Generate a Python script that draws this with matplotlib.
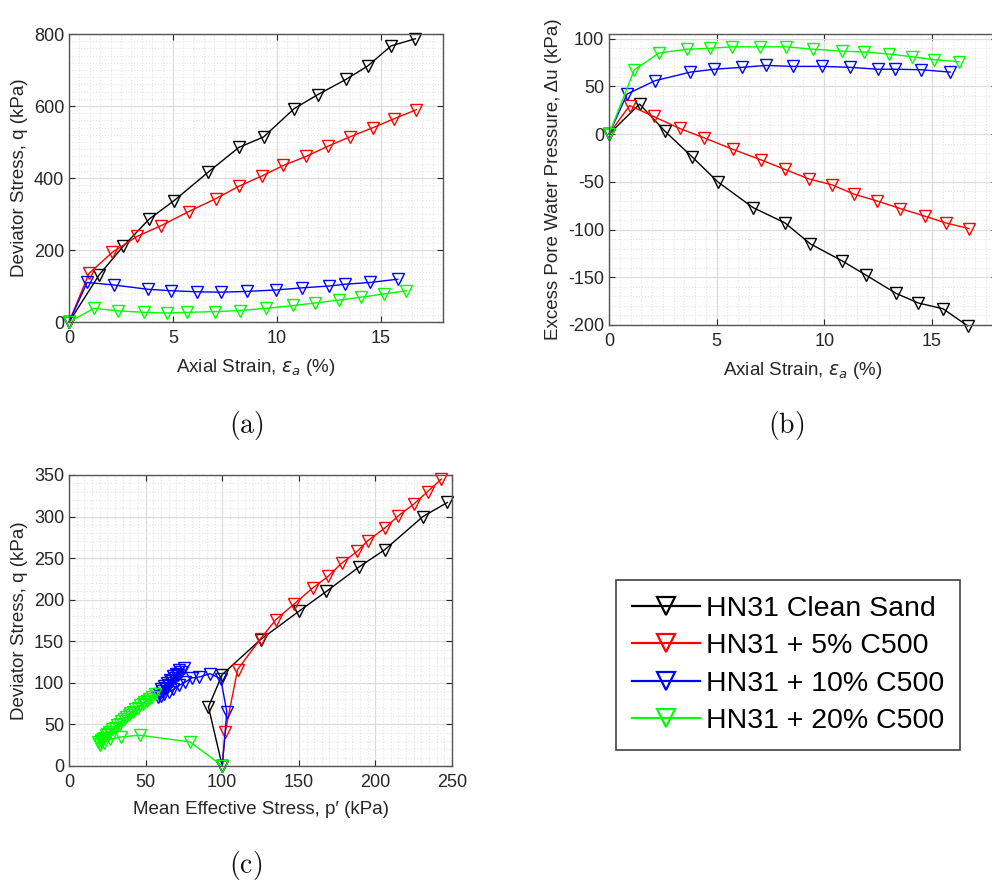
import numpy as np
import matplotlib.pyplot as plt
from matplotlib.ticker import MultipleLocator

plt.rcParams['font.family'] = ['Liberation Sans', 'DejaVu Sans']
plt.rcParams['axes.unicode_minus'] = False

labels = ['HN31 Clean Sand', 'HN31 + 5% C500', 'HN31 + 10% C500', 'HN31 + 20% C500']
colors = ['#000000', '#ff0000', '#0000ff', '#00ff00']

# (a) deviator stress vs axial strain
ea_a = [
    [0, 1.45, 2.6, 3.86, 5.05, 6.69, 8.17, 9.36, 10.84, 11.98, 13.33, 14.37, 15.5, 16.67],
    [0, 0.96, 2.09, 3.28, 4.44, 5.76, 7.07, 8.17, 9.29, 10.32, 11.41, 12.44, 13.5, 14.63, 15.66, 16.72],
    [0, 0.87, 2.15, 3.79, 4.89, 6.17, 7.3, 8.55, 9.94, 11.22, 12.51, 13.28, 14.5, 15.82],
    [0, 1.19, 2.35, 3.6, 4.73, 5.69, 7.04, 8.23, 9.49, 10.8, 11.86, 12.99, 14.05, 15.14, 16.24],
]
q_a = [
    [0, 131, 210, 286, 337, 416, 485, 514, 593, 632, 674, 711, 767, 787],
    [0, 135, 194, 238, 268, 307, 343, 377, 406, 435, 460, 488, 514, 540, 565, 590],
    [0, 110, 103, 91, 87, 84, 83, 85, 89, 95, 100, 105, 110, 119],
    [0, 38, 31, 27, 25, 27, 29, 32, 38, 46, 53, 61, 69, 78, 87],
]

# (b) excess pore water pressure vs axial strain
ea_b = [
    [0, 1.42, 2.6, 3.87, 5.05, 6.69, 8.17, 9.35, 10.84, 11.95, 13.34, 14.37, 15.51, 16.66],
    [0, 0.96, 2.07, 3.28, 4.43, 5.76, 7.06, 8.17, 9.29, 10.34, 11.39, 12.44, 13.53, 14.67, 15.63, 16.72],
    [0, 0.84, 2.14, 3.78, 4.89, 6.16, 7.28, 8.54, 9.91, 11.21, 12.48, 13.28, 14.49, 15.85],
    [0, 1.18, 2.32, 3.62, 4.71, 5.7, 7.0, 8.24, 9.47, 10.84, 11.86, 13.0, 14.09, 15.11, 16.25],
]
du_b = [
    [0, 31.5, 3, -24, -50, -77, -93, -115, -133, -148, -167, -177, -183, -201],
    [0, 30, 18.5, 6, -4, -16, -27, -37, -47, -53, -63, -70, -78, -86, -93, -99],
    [0, 42, 56, 65, 68, 70, 72, 71, 71, 70, 68, 68, 67.5, 65],
    [0, 67.5, 85, 89, 90, 91.5, 91.5, 91.5, 89, 87, 86, 84, 81, 78, 76],
]

# (c) stress paths
p_c = [
    [100, 91, 100, 125, 150, 168, 189, 206, 231, 247],
    [100, 102, 110, 125, 135, 147, 159, 169, 178, 188, 195, 206, 215, 225, 234, 243],
    [100, 103, 99, 92, 85, 80, 76, 72, 68, 65, 62, 60, 58, 59, 61, 60, 63, 62, 65, 64, 67, 66,
     69, 68, 71, 70, 73, 72, 75],
    [100, 79, 46, 34, 27, 23, 20, 19, 21, 20, 22, 21, 24, 23, 26, 25, 28, 27, 31, 30, 34, 33,
     37, 36, 40, 39, 43, 42, 46, 45, 49, 48, 52, 51, 54, 56],
]
q_c = [
    [0, 71, 110, 152, 186, 210, 239, 260, 300, 317],
    [0, 41, 116, 153, 176, 195, 214, 228, 244, 258, 271, 286, 301, 315, 330, 345],
    [0, 65, 105, 111, 107, 106, 101, 97, 92, 89, 86, 84, 83, 87, 90, 92, 94, 96, 98, 100, 102, 104,
     106, 108, 110, 111, 113, 115, 118],
    [0, 29, 37, 35, 32, 28, 25, 29, 31, 27, 33, 30, 37, 34, 41, 38, 44, 41, 49, 46, 54, 51,
     59, 56, 64, 61, 68, 65, 73, 70, 77, 74, 81, 78, 83, 86],
]

fig = plt.figure(figsize=(9.92, 8.84), dpi=100)
ax_a = fig.add_axes([0.0696, 0.6357, 0.377, 0.3258])
ax_b = fig.add_axes([0.6139, 0.6324, 0.3907, 0.3292])
ax_c = fig.add_axes([0.0696, 0.1335, 0.3861, 0.3292])

txt = '#262626'
for ax, xs, ys in [(ax_a, ea_a, q_a), (ax_b, ea_b, du_b), (ax_c, p_c, q_c)]:
    for x, y, c, lab in zip(xs, ys, colors, labels):
        ax.plot(x, y, color=c, lw=1.0, marker='v', ms=9, mfc='none', mec=c, mew=1.0,
                label=lab, clip_on=False)
    ax.set_axisbelow(True)
    ax.grid(which='major', color='#dcdcdc', lw=0.9)
    ax.grid(which='minor', color='#e4e4e4', lw=0.8, ls=':')
    ax.tick_params(which='major', direction='in', top=True, right=True, length=4,
                   labelsize=13, colors=txt, width=0.8)
    ax.tick_params(axis='x', which='major', pad=6)
    ax.tick_params(which='minor', length=0)
    for s in ax.spines.values():
        s.set_color('#555555')
        s.set_linewidth(1.0)

ax_a.set_xlim(0, 18)
ax_a.set_ylim(0, 800)
ax_a.xaxis.set_major_locator(MultipleLocator(5))
ax_a.xaxis.set_minor_locator(MultipleLocator(0.5))
ax_a.yaxis.set_major_locator(MultipleLocator(200))
ax_a.yaxis.set_minor_locator(MultipleLocator(20))
ax_a.set_xlabel(r'Axial Strain, $\epsilon_a$ (%)', fontsize=13.5, color=txt, labelpad=7)
ax_a.set_ylabel('Deviator Stress, q (kPa)', fontsize=13.5, color=txt, labelpad=4)

ax_b.set_xlim(0, 18)
ax_b.set_ylim(-200, 105)
ax_b.xaxis.set_major_locator(MultipleLocator(5))
ax_b.xaxis.set_minor_locator(MultipleLocator(0.5))
ax_b.yaxis.set_major_locator(MultipleLocator(50))
ax_b.yaxis.set_minor_locator(MultipleLocator(10))
ax_b.set_xlabel(r'Axial Strain, $\epsilon_a$ (%)', fontsize=13.5, color=txt, labelpad=7)
ax_b.set_ylabel('Excess Pore Water Pressure, Δu (kPa)', fontsize=13.5, color=txt, labelpad=4)

ax_c.set_xlim(0, 250)
ax_c.set_ylim(0, 350)
ax_c.xaxis.set_major_locator(MultipleLocator(50))
ax_c.xaxis.set_minor_locator(MultipleLocator(5))
ax_c.yaxis.set_major_locator(MultipleLocator(50))
ax_c.yaxis.set_minor_locator(MultipleLocator(10))
ax_c.set_xlabel('Mean Effective Stress, p\u2032 (kPa)', fontsize=13.5, color=txt, labelpad=7)
ax_c.set_ylabel('Deviator Stress, q (kPa)', fontsize=13.5, color=txt, labelpad=4)

for s, x, y in [('(a)', 246, 425), ('(b)', 786, 425), ('(c)', 246, 865)]:
    fig.text(x / 992, 1 - y / 884, r'$\mathrm{' + s + '}$', ha='center', va='center',
             fontsize=20, math_fontfamily='cm', color='#111111')

h, l = ax_a.get_legend_handles_labels()
leg = fig.legend(h, l, loc='center', bbox_to_anchor=(788 / 992, 1 - 665 / 884),
                 fontsize=20.5, frameon=True, fancybox=False, edgecolor='#505050',
                 framealpha=1, handlelength=2.4, handletextpad=0.2, labelspacing=0.4,
                 borderpad=0.55, borderaxespad=0)
leg.get_frame().set_linewidth(1.3)
for line in leg.get_lines():
    line.set_markersize(13)
    line.set_markeredgewidth(1.6)
    line.set_linewidth(1.6)

fig.savefig('out.png', dpi=100)
